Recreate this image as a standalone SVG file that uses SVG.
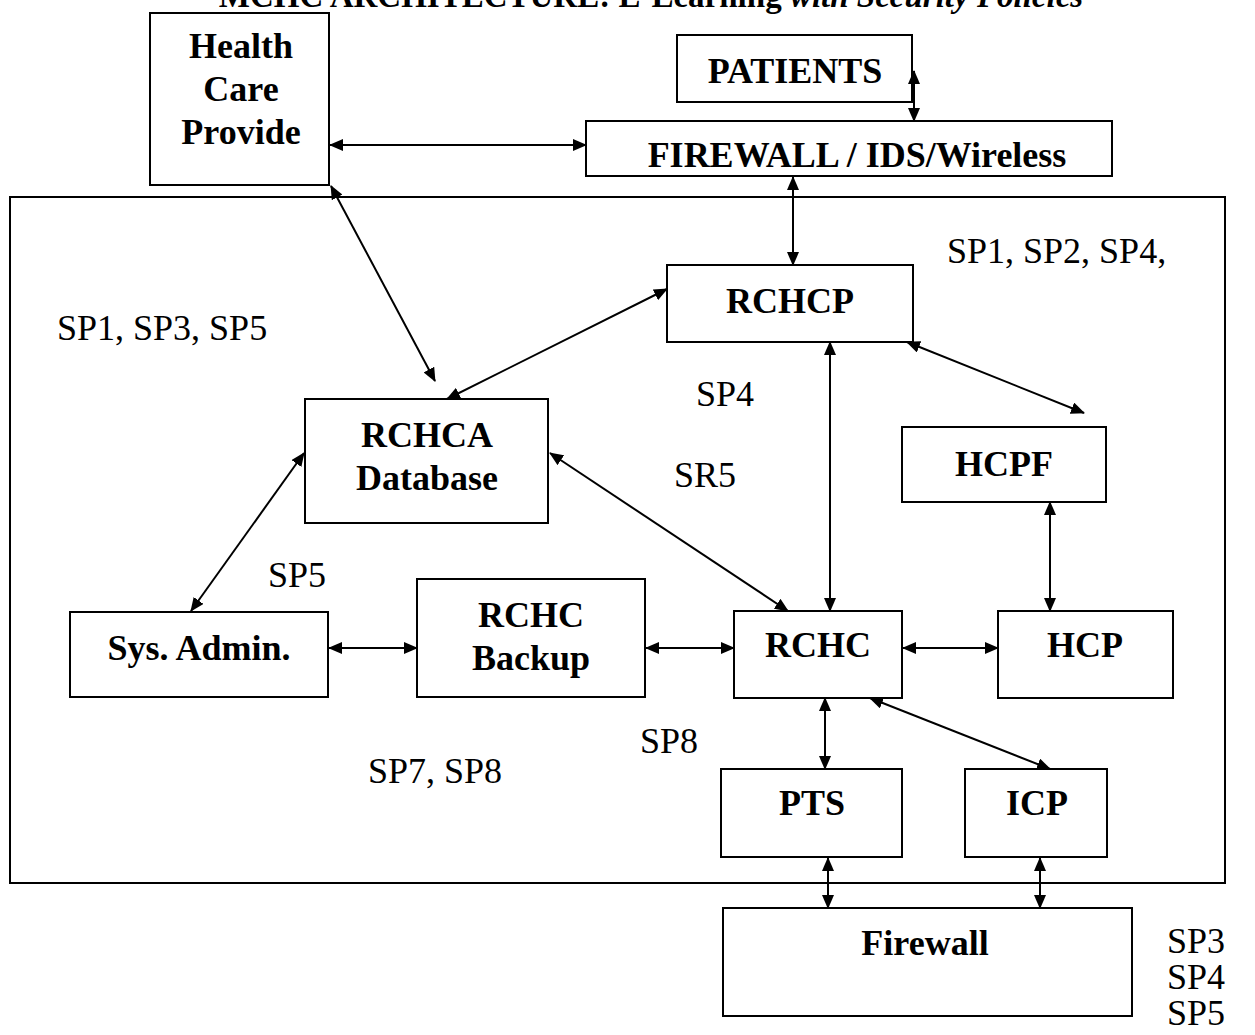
<svg xmlns="http://www.w3.org/2000/svg" width="1255" height="1035" viewBox="0 0 1255 1035">
<defs>
<style>
.box{fill:#fff;stroke:#000;stroke-width:2}
.frame{fill:none;stroke:#000;stroke-width:2}
.lbl{font-family:"Liberation Serif","Times New Roman",serif;font-weight:bold;font-size:36px;text-anchor:middle;fill:#000}
.sp{font-family:"Liberation Serif","Times New Roman",serif;font-size:36px;fill:#000}
.ttl{font-family:"Liberation Serif","Times New Roman",serif;font-weight:bold;font-size:33px;text-anchor:middle;fill:#000}
.con line{stroke:#000;stroke-width:2;marker-start:url(#ah);marker-end:url(#ah)}
</style>
<marker id="ah" viewBox="0 0 14 12" markerWidth="14" markerHeight="12" refX="13" refY="6" orient="auto-start-reverse" markerUnits="userSpaceOnUse">
<path d="M0,0 L14,6 L0,12 z" fill="#000"/>
</marker>
</defs>
<rect width="1255" height="1035" fill="#fff"/>
<text class="ttl" x="651" y="7">MCHC ARCHITECTURE: E-Learning <tspan font-style="italic">with Security Policies</tspan></text>
<rect class="frame" x="10" y="197" width="1215" height="686"/>
<g id="health"><rect class="box" x="150" y="13" width="179" height="172"/><text class="lbl" x="241" y="58">Health</text><text class="lbl" x="241" y="101">Care</text><text class="lbl" x="241" y="144">Provide</text></g>
<g id="patients"><rect class="box" x="677" y="35" width="235" height="67"/><text class="lbl" x="795" y="83">PATIENTS</text></g>
<g id="firewall-top"><rect class="box" x="586" y="121" width="526" height="55"/><text class="lbl" x="857" y="167">FIREWALL / IDS/Wireless</text></g>
<g id="rchcp"><rect class="box" x="667" y="265" width="246" height="77"/><text class="lbl" x="790" y="313">RCHCP</text></g>
<g id="rchca"><rect class="box" x="305" y="399" width="243" height="124"/><text class="lbl" x="427" y="447">RCHCA</text><text class="lbl" x="427" y="490">Database</text></g>
<g id="hcpf"><rect class="box" x="902" y="427" width="204" height="75"/><text class="lbl" x="1004" y="476">HCPF</text></g>
<g id="sysadmin"><rect class="box" x="70" y="612" width="258" height="85"/><text class="lbl" x="199" y="660">Sys. Admin.</text></g>
<g id="backup"><rect class="box" x="417" y="579" width="228" height="118"/><text class="lbl" x="531" y="627">RCHC</text><text class="lbl" x="531" y="670">Backup</text></g>
<g id="rchc"><rect class="box" x="734" y="611" width="168" height="87"/><text class="lbl" x="818" y="657">RCHC</text></g>
<g id="hcp"><rect class="box" x="998" y="611" width="175" height="87"/><text class="lbl" x="1085" y="657">HCP</text></g>
<g id="pts"><rect class="box" x="721" y="769" width="181" height="88"/><text class="lbl" x="812" y="815">PTS</text></g>
<g id="icp"><rect class="box" x="965" y="769" width="142" height="88"/><text class="lbl" x="1037" y="815">ICP</text></g>
<g id="firewall-bottom"><rect class="box" x="723" y="908" width="409" height="108"/><text class="lbl" x="925" y="955">Firewall</text></g>
<g class="con" id="connectors">
<line x1="914" y1="71" x2="914" y2="121"/>
<line x1="330" y1="145" x2="586" y2="145"/>
<line x1="331" y1="186" x2="435" y2="381"/>
<line x1="793" y1="177" x2="793" y2="265"/>
<line x1="667" y1="289" x2="447" y2="399"/>
<line x1="907" y1="342" x2="1084" y2="413"/>
<line x1="830" y1="342" x2="830" y2="611"/>
<line x1="550" y1="453" x2="788" y2="611"/>
<line x1="304" y1="453" x2="191" y2="611"/>
<line x1="1050" y1="502" x2="1050" y2="611"/>
<line x1="329" y1="648" x2="417" y2="648"/>
<line x1="646" y1="648" x2="734" y2="648"/>
<line x1="903" y1="648" x2="998" y2="648"/>
<line x1="825" y1="698" x2="825" y2="769"/>
<line x1="870" y1="698" x2="1050" y2="769"/>
<line x1="828" y1="858" x2="828" y2="908"/>
<line x1="1040" y1="858" x2="1040" y2="908"/>
</g>
<g id="labels">
<text class="sp" x="947" y="263">SP1, SP2, SP4,</text>
<text class="sp" x="57" y="340">SP1, SP3, SP5</text>
<text class="sp" x="696" y="406">SP4</text>
<text class="sp" x="674" y="487">SR5</text>
<text class="sp" x="268" y="587">SP5</text>
<text class="sp" x="640" y="753">SP8</text>
<text class="sp" x="368" y="783">SP7, SP8</text>
<text class="sp" x="1167" y="953">SP3</text>
<text class="sp" x="1167" y="989">SP4</text>
<text class="sp" x="1167" y="1025">SP5</text>
</g>
</svg>
